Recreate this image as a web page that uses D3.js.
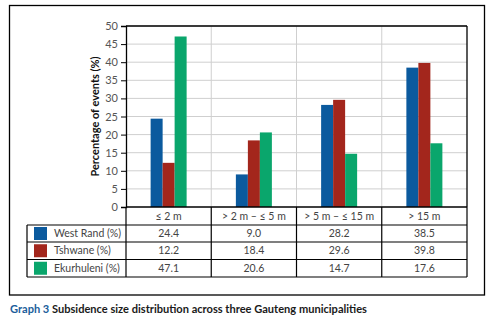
<!DOCTYPE html>
<html><head><meta charset="utf-8">
<script src="https://cdn.jsdelivr.net/npm/d3@7"></script>
<style>body{margin:0;background:#fff}svg{display:block}</style>
</head><body>
<script>
const categories = ["≤ 2 m", "> 2 m – ≤ 5 m", "> 5 m – ≤ 15 m", "> 15 m"];
const seriesNames = ["West Rand (%)", "Tshwane (%)", "Ekurhuleni (%)"];
const westRand = [24.4, 9.0, 28.2, 38.5];
const tshwane = [12.2, 18.4, 29.6, 39.8];
const ekurhuleni = [47.1, 20.6, 14.7, 17.6];
const yTicks = [0, 5, 10, 15, 20, 25, 30, 35, 40, 45, 50];
const colors = ["#0b5a9e", "#a3261c", "#0aa66c"];
const series = [westRand, tshwane, ekurhuleni];

const W = 496, H = 322;
const svg = d3.select("body").append("svg").attr("width", W).attr("height", H);
const font = "Lato, 'Open Sans', sans-serif";

// outer frame
svg.append("rect").attr("x", 9.5).attr("y", 5.5).attr("width", 475).attr("height", 289.5)
  .attr("fill", "none").attr("stroke", "#000").attr("stroke-width", 1.3);

const pl = 126, pr = 467, pt = 26, pb = 207;
const x = d3.scaleBand().domain(categories).range([pl, pr]);
const y = d3.scaleLinear().domain([0, 50]).range([pb, pt]);
const xs = d3.scaleBand().domain(d3.range(3)).range([0, 36]);

// gridlines
svg.append("g").selectAll("line").data(yTicks.slice(1)).join("line")
  .attr("x1", pl).attr("x2", pr).attr("y1", d => y(d)).attr("y2", d => y(d))
  .attr("stroke", "#cfcfcf").attr("stroke-width", 1);
svg.append("g").selectAll("line").data(categories.slice(1)).join("line")
  .attr("x1", d => x(d)).attr("x2", d => x(d)).attr("y1", pt).attr("y2", pb)
  .attr("stroke", "#cfcfcf").attr("stroke-width", 1);

// bars
series.forEach((s, i) => {
  svg.append("g").selectAll("rect").data(s).join("rect")
    .attr("x", (d, j) => x(categories[j]) + x.bandwidth() / 2 - 18 + xs(i))
    .attr("width", xs.bandwidth())
    .attr("y", d => y(d)).attr("height", d => y(0) - y(d))
    .attr("fill", colors[i]);
});

// plot border top/right
svg.append("line").attr("x1", pl).attr("x2", pr).attr("y1", pt).attr("y2", pt).attr("stroke", "#000").attr("stroke-width", 1.3);
svg.append("line").attr("x1", pr).attr("x2", pr).attr("y1", pt).attr("y2", pb).attr("stroke", "#000").attr("stroke-width", 1.3);

// y axis
const yAxis = svg.append("g").attr("transform", `translate(${pl},0)`)
  .call(d3.axisLeft(y).tickValues(yTicks).tickSize(5).tickPadding(3));
yAxis.select(".domain").attr("stroke", "#000").attr("stroke-width", 1.3);
yAxis.selectAll(".tick line").attr("stroke", "#000");
yAxis.selectAll("text").attr("font-family", font).attr("font-size", 11).attr("fill", "#555");

svg.append("text").attr("transform", `translate(99,${(pt + pb) / 2}) rotate(-90)`)
  .attr("text-anchor", "middle").attr("font-family", font).attr("font-weight", 700)
  .attr("font-size", 11).attr("fill", "#111").text("Percentage of events (%)");

// table
const rowY = [207, 225, 242, 259.5, 277];
const tl = 27;
const tbl = svg.append("g").attr("stroke", "#000").attr("stroke-width", 1.2);
tbl.append("line").attr("x1", pl).attr("x2", pr).attr("y1", rowY[0]).attr("y2", rowY[0]).attr("stroke-width", 1.5);
rowY.slice(1).forEach(yy => tbl.append("line").attr("x1", tl).attr("x2", pr).attr("y1", yy).attr("y2", yy));
tbl.append("line").attr("x1", tl).attr("x2", tl).attr("y1", rowY[1]).attr("y2", rowY[4]);
[pl, ...categories.slice(1).map(c => x(c)), pr].forEach(xx =>
  tbl.append("line").attr("x1", xx).attr("x2", xx).attr("y1", rowY[0]).attr("y2", rowY[4]));

const tg = svg.append("g").attr("font-family", font).attr("font-size", 10.5).attr("fill", "#444");
tg.selectAll("text.cat").data(categories).join("text").attr("class", "cat")
  .attr("x", d => x(d) + x.bandwidth() / 2).attr("y", (rowY[0] + rowY[1]) / 2)
  .attr("dy", "0.35em").attr("text-anchor", "middle").text(d => d);
series.forEach((s, i) => {
  const cy = (rowY[i + 1] + rowY[i + 2]) / 2;
  svg.append("rect").attr("x", 34).attr("y", cy - 6.5).attr("width", 13).attr("height", 13).attr("fill", colors[i]);
  tg.append("text").attr("x", 54).attr("y", cy).attr("dy", "0.35em").text(seriesNames[i]);
  tg.append("g").selectAll("text").data(s).join("text")
    .attr("x", (d, j) => x(categories[j]) + x.bandwidth() / 2).attr("y", cy).attr("dy", "0.35em")
    .attr("text-anchor", "middle").text(d => d.toFixed(1));
});

// caption
const cap = svg.append("text").attr("x", 10).attr("y", 313).attr("font-family", font)
  .attr("font-weight", 700).attr("font-size", 11.5).attr("fill", "#1a1a1a")
  .attr("textLength", 357).attr("lengthAdjust", "spacingAndGlyphs");
cap.append("tspan").attr("fill", "#1b5e9b").text("Graph 3");
cap.append("tspan").text(" Subsidence size distribution across three Gauteng municipalities");
</script>
</body></html>
